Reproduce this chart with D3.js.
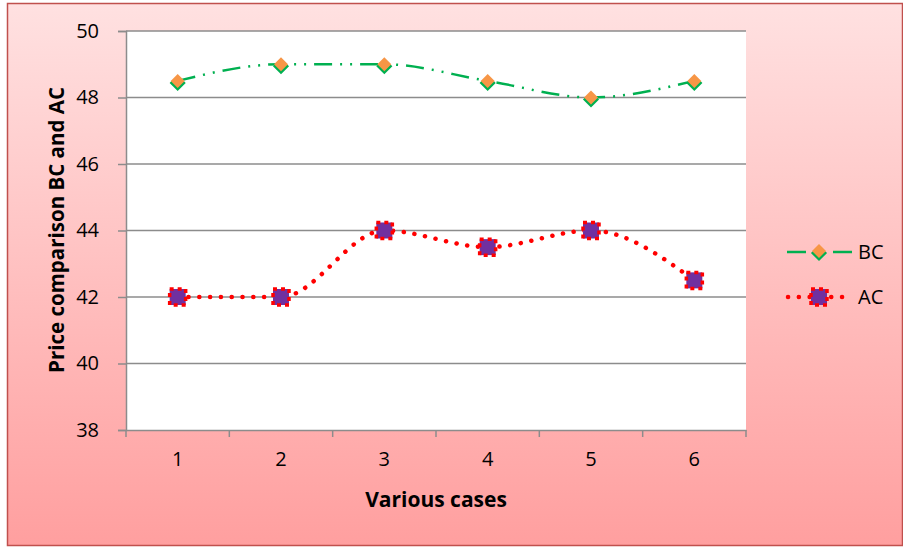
<!DOCTYPE html>
<html>
<head>
<meta charset="utf-8">
<script src="https://cdn.jsdelivr.net/npm/d3@7"></script>
<style>
  body { margin: 0; background: #fff; }
  text { font-family: "Open Sans", "Noto Sans", sans-serif; fill: #000; }
</style>
</head>
<body>
<div id="chart"></div>
<script>
var cases = [1, 2, 3, 4, 5, 6];
var bcValues = [48.5, 49, 49, 48.5, 48, 48.5];
var acValues = [42, 42, 44, 43.5, 44, 42.5];
var yTicks = [38, 40, 42, 44, 46, 48, 50];

var width = 903, height = 547;
var plot = { left: 126, right: 746, top: 31, bottom: 430 };

var svg = d3.select("#chart").append("svg")
    .attr("width", width)
    .attr("height", height);

var defs = svg.append("defs");
var grad = defs.append("linearGradient")
    .attr("id", "bg")
    .attr("x1", 0).attr("y1", 0).attr("x2", 0).attr("y2", 1);
grad.append("stop").attr("offset", "0%").attr("stop-color", "#ffe1e1");
grad.append("stop").attr("offset", "100%").attr("stop-color", "#ff9f9f");

// chart area background
svg.append("rect")
    .attr("x", 7.5).attr("y", 3.5)
    .attr("width", 895).attr("height", 542)
    .attr("fill", "url(#bg)")
    .attr("stroke", "#c0504d")
    .attr("stroke-width", 1.5);

svg.append("rect")
    .attr("x", plot.left).attr("y", plot.top)
    .attr("width", plot.right - plot.left)
    .attr("height", plot.bottom - plot.top)
    .attr("fill", "#fff");

var x = d3.scaleBand()
    .domain(cases)
    .range([plot.left, plot.right]);

var y = d3.scaleLinear()
    .domain([38, 50])
    .range([plot.bottom, plot.top]);

// gridlines
svg.append("g")
    .selectAll("line")
    .data(yTicks.slice(1))
    .enter()
    .append("line")
    .attr("x1", plot.left).attr("x2", plot.right)
    .attr("y1", function(d) { return y(d); })
    .attr("y2", function(d) { return y(d); })
    .attr("stroke", "#8c8c8c")
    .attr("stroke-width", 1.5);

// y axis
var yAxis = svg.append("g")
    .attr("transform", "translate(" + plot.left + ",0)")
    .call(d3.axisLeft(y).tickValues(yTicks).tickSize(8).tickPadding(19).tickFormat(d3.format("d")));
yAxis.select(".domain").attr("stroke", "#8c8c8c").attr("stroke-width", 1.5);
yAxis.selectAll(".tick line").attr("stroke", "#8c8c8c").attr("stroke-width", 1.5);
yAxis.selectAll(".tick text").attr("font-size", 20).attr("font-family", "Open Sans");

// x axis
var xAxis = svg.append("g")
    .attr("transform", "translate(0," + plot.bottom + ")")
    .call(d3.axisBottom(x).tickSize(0).tickPadding(22));
xAxis.select(".domain").attr("stroke", "#8c8c8c").attr("stroke-width", 1.5);
xAxis.selectAll(".tick text").attr("font-size", 20).attr("font-family", "Open Sans");

// x tick marks at category boundaries
var bounds = cases.map(function(c) { return x(c); }).concat([x(cases[cases.length - 1]) + x.bandwidth()]);
xAxis.selectAll(".bound")
    .data(bounds)
    .enter()
    .append("line")
    .attr("class", "bound")
    .attr("x1", function(d) { return d; })
    .attr("x2", function(d) { return d; })
    .attr("y1", 0).attr("y2", 7)
    .attr("stroke", "#8c8c8c")
    .attr("stroke-width", 1.5);

function cx(i) { return x(cases[i]) + x.bandwidth() / 2; }

var line = d3.line()
    .x(function(d, i) { return cx(i); })
    .y(function(d) { return y(d); })
    .curve(d3.curveMonotoneX);

// BC line
svg.append("path")
    .datum(bcValues)
    .attr("d", line)
    .attr("fill", "none")
    .attr("stroke", "#00b050")
    .attr("stroke-width", 2.5)
    .attr("stroke-dasharray", "18,8,2,8,2,8");

// AC line
svg.append("path")
    .datum(acValues)
    .attr("d", line)
    .attr("fill", "none")
    .attr("stroke", "#ff0000")
    .attr("stroke-width", 4.5)
    .attr("stroke-linecap", "round")
    .attr("stroke-dasharray", "0.1,10.7");

function diamond(g, px, py) {
    g.append("path")
        .attr("d", "M" + (px - 7) + "," + (py + 1) + " L" + px + "," + (py + 8) + " L" + (px + 7) + "," + (py + 1))
        .attr("fill", "none")
        .attr("stroke", "#00b050")
        .attr("stroke-width", 3);
    g.append("path")
        .attr("d", "M" + px + "," + (py - 7) + " L" + (px + 7) + "," + py + " L" + px + "," + (py + 7) + " L" + (px - 7) + "," + py + "Z")
        .attr("fill", "#f79646");
}

function square(g, px, py) {
    g.append("rect")
        .attr("x", px - 8).attr("y", py - 8)
        .attr("width", 16).attr("height", 16)
        .attr("fill", "#7030a0")
        .attr("stroke", "#ff0000")
        .attr("stroke-width", 3.5)
        .attr("stroke-dasharray", "4,4");
}

var bcMarks = svg.append("g");
bcValues.forEach(function(v, i) { diamond(bcMarks, cx(i), y(v)); });

var acMarks = svg.append("g");
acValues.forEach(function(v, i) { square(acMarks, cx(i), y(v)); });

// legend
var legend = svg.append("g");
legend.append("line")
    .attr("x1", 787).attr("x2", 806).attr("y1", 252).attr("y2", 252)
    .attr("stroke", "#00b050").attr("stroke-width", 2.5);
legend.append("line")
    .attr("x1", 833).attr("x2", 852).attr("y1", 252).attr("y2", 252)
    .attr("stroke", "#00b050").attr("stroke-width", 2.5);
diamond(legend, 819, 251);
legend.append("text")
    .attr("x", 858).attr("y", 252).attr("dy", "0.35em")
    .attr("font-size", 20).text("BC");

legend.append("line")
    .attr("x1", 788).attr("x2", 852).attr("y1", 297).attr("y2", 297)
    .attr("stroke", "#ff0000").attr("stroke-width", 4.5)
    .attr("stroke-linecap", "round")
    .attr("stroke-dasharray", "0.1,10.7");
square(legend, 819, 297);
legend.append("text")
    .attr("x", 858).attr("y", 297).attr("dy", "0.35em")
    .attr("font-size", 20).text("AC");

// axis titles
svg.append("text")
    .attr("x", (plot.left + plot.right) / 2)
    .attr("y", 500)
    .attr("dy", "0.35em")
    .attr("text-anchor", "middle")
    .attr("font-size", 21)
    .attr("font-weight", "bold")
    .text("Various cases");

svg.append("text")
    .attr("transform", "translate(57,230)rotate(-90)")
    .attr("dy", "0.35em")
    .attr("text-anchor", "middle")
    .attr("font-size", 20.5)
    .attr("font-weight", "bold")
    .text("Price comparison BC and AC");
</script>
</body>
</html>
